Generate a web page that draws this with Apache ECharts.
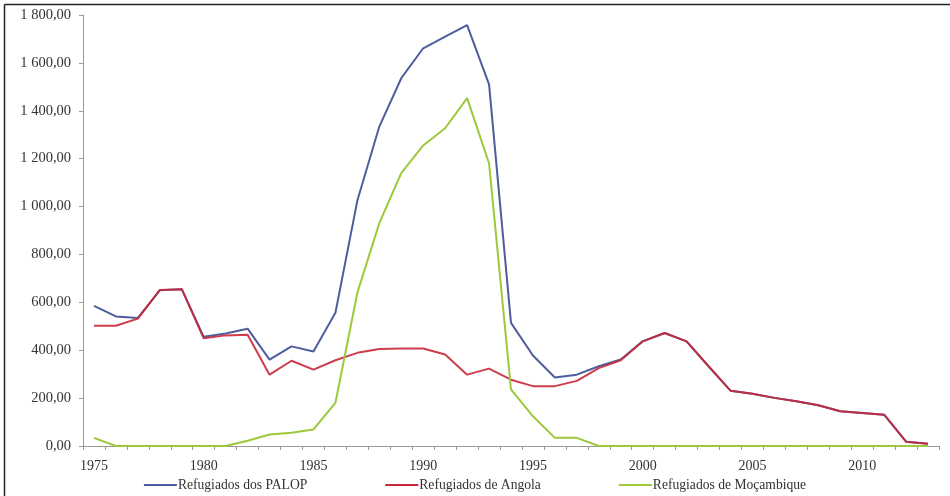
<!DOCTYPE html>
<html>
<head>
<meta charset="utf-8">
<script src="https://cdn.jsdelivr.net/npm/echarts@6/dist/echarts.min.js"></script>
<style>
  html, body { margin: 0; padding: 0; background: #fff; }
  #chart { width: 950px; height: 496px; }
</style>
</head>
<body>
<div id="chart"></div>
<script>
// Years on the category axis
const years = [];
for (let y = 1975; y <= 2013; y++) years.push(String(y));

// Values (1975 .. 2013)
const palop = [585, 541, 535, 650, 655, 456, 470, 490, 361, 416,
               395, 556, 1025, 1334, 1536, 1661, 1710, 1758, 1510, 514,
               378, 286, 298, 333, 361, 437, 472, 437, 333, 231,
               218, 201, 187, 170, 145, 138, 131, 18, 9];
const angola = [502, 502, 532, 652, 655, 450, 462, 465, 298, 356,
                319, 358, 389, 405, 407, 407, 382, 298, 323, 277,
                250, 250, 272, 325, 358, 437, 472, 437, 333, 231,
                218, 201, 187, 170, 145, 138, 131, 18, 9];
const mocambique = [34, 0, 0, 0, 0, 0, 0, 22, 48, 55,
                    69, 180, 640, 931, 1140, 1255, 1327, 1453, 1181, 236,
                    124, 34, 34, 0, 0, 0, 0, 0, 0, 0,
                    0, 0, 0, 0, 0, 0, 0, 0, 0];

const seriesNames = ['Refugiados dos PALOP', 'Refugiados de Angola', 'Refugiados de Moçambique'];

const fontFamily = '"Liberation Serif", "DejaVu Serif", serif';

// "1 800,00" style labels
const fmtValue = (v) => {
    let s = v >= 1000 ? Math.floor(v / 1000) + ' ' + String(v % 1000).padStart(3, '0') : String(v);
    return s + ',00';
};

const chart = echarts.init(document.getElementById('chart'));

const option = {
    animation: false,
    textStyle: { fontFamily: fontFamily },
    grid: { left: 83, right: 11, top: 15, bottom: 50 },
    legend: {
        data: seriesNames,
        bottom: -1,
        left: 'center',
        itemGap: 78,
        itemWidth: 33,
        itemHeight: 2,
        icon: 'rect',
        textStyle: { fontFamily: fontFamily, fontSize: 13.6, color: '#333', padding: [0, 0, 0, -4] }
    },
    xAxis: {
        type: 'category',
        data: years,
        boundaryGap: true,
        axisLine: { lineStyle: { color: '#999', width: 1 } },
        axisTick: { show: true, interval: 0, length: 4, lineStyle: { color: '#999' } },
        axisLabel: { interval: 4, color: '#333', fontSize: 14, margin: 13, fontFamily: fontFamily },
        splitLine: { show: false }
    },
    yAxis: {
        type: 'value',
        min: 0,
        max: 1800,
        interval: 200,
        axisLine: { show: true, lineStyle: { color: '#999', width: 1 } },
        axisTick: { show: true, length: 4, lineStyle: { color: '#999' } },
        axisLabel: { color: '#333', fontSize: 14.5, margin: 12, fontFamily: fontFamily, formatter: fmtValue },
        splitLine: { show: false }
    },
    series: [
        {
            name: seriesNames[0],
            type: 'line',
            data: palop,
            showSymbol: false,
            itemStyle: { color: '#4f5d9c' },
            lineStyle: { color: '#4f5d9c', width: 2 }
        },
        {
            name: seriesNames[1],
            type: 'line',
            data: angola,
            showSymbol: false,
            itemStyle: { color: '#c8283a' },
            lineStyle: { color: '#c8283a', width: 2, opacity: 0.9 }
        },
        {
            name: seriesNames[2],
            type: 'line',
            data: mocambique,
            showSymbol: false,
            itemStyle: { color: '#9cc83a' },
            lineStyle: { color: '#9cc83a', width: 2 }
        }
    ],
    graphic: [
        { type: 'line', shape: { x1: 4.5, y1: 4.5, x2: 950, y2: 4.5 }, style: { stroke: '#222', lineWidth: 1.5 } },
        { type: 'line', shape: { x1: 4.5, y1: 4.5, x2: 4.5, y2: 496 }, style: { stroke: '#222', lineWidth: 1.5 } }
    ]
};

chart.setOption(option);
</script>
</body>
</html>
